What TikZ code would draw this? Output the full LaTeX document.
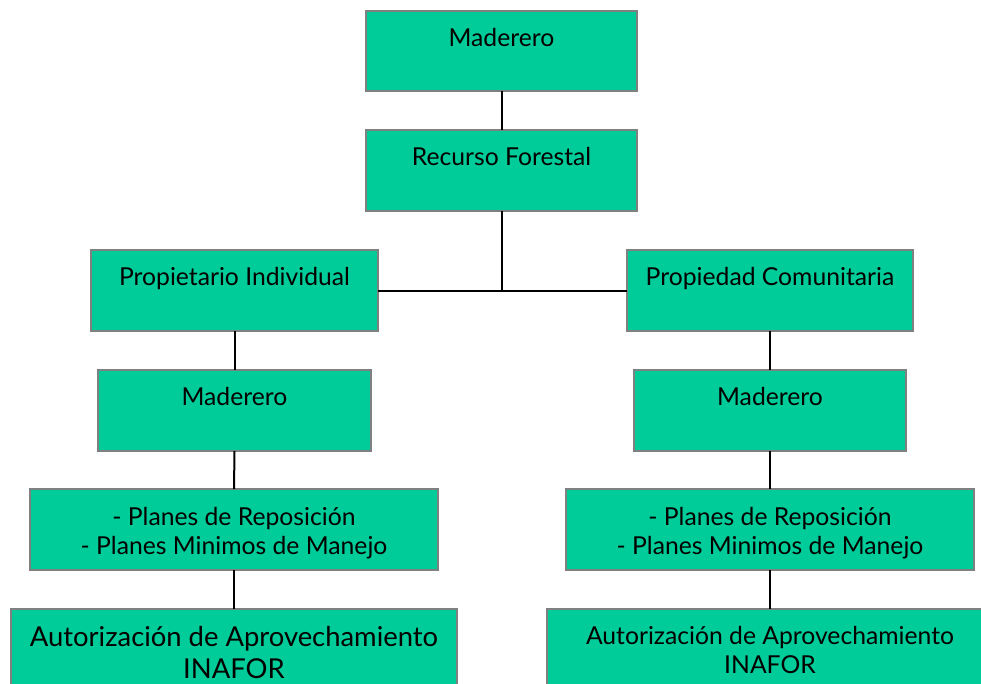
\documentclass[tikz,border=0pt]{standalone}
\usepackage{fontspec}
\setmainfont{Lato}
\definecolor{boxfill}{RGB}{0,204,153}
\definecolor{boxgray}{RGB}{128,128,128}
\tikzset{
  box/.style={draw=boxgray, line width=2pt, fill=boxfill, inner sep=0pt, outer sep=0pt},
  txt/.style={anchor=north, inner sep=0pt, align=center, text=black,
              font=\fontsize{24.7}{29}\selectfont},
  txtbig/.style={anchor=north, inner sep=0pt, align=center, text=black,
              font=\fontsize{27.4}{32}\selectfont},
  conn/.style={draw=black, line width=2pt},
}
\begin{document}
\begin{tikzpicture}[x=1pt, y=-1pt]
\useasboundingbox (0,0) rectangle (981,684);
\clip (0,0) rectangle (981,684);
\node[box, minimum width=271pt, minimum height=80pt,
  label={[name=At, txt, yshift=-14.7pt]north:\strut Maderero}] (A) at (501.5,51) {};
\node[box, minimum width=271pt, minimum height=81pt,
  label={[name=Bt, txt, yshift=-14.7pt]north:\strut Recurso Forestal}] (B) at (501.5,170.5) {};
\node[box, minimum width=287pt, minimum height=81pt,
  label={[name=Ct, txt, yshift=-14.7pt]north:\strut Propietario Individual}] (C) at (234.5,290.5) {};
\node[box, minimum width=286pt, minimum height=81pt,
  label={[name=Dt, txt, yshift=-14.7pt]north:\strut Propiedad Comunitaria}] (D) at (770,290.5) {};
\node[box, minimum width=273pt, minimum height=81pt,
  label={[name=Et, txt, yshift=-14.7pt]north:\strut Maderero}] (E) at (234.5,410.5) {};
\node[box, minimum width=272pt, minimum height=81pt,
  label={[name=Ft, txt, yshift=-14.7pt]north:\strut Maderero}] (F) at (770,410.5) {};
\node[box, minimum width=408pt, minimum height=81pt,
  label={[name=Gt, txt, yshift=-15.7pt]north:\strut - Planes de Reposición\\\strut - Planes Minimos de Manejo}] (G) at (234,529.5) {};
\node[box, minimum width=408pt, minimum height=81pt,
  label={[name=Ht, txt, yshift=-15.7pt]north:\strut - Planes de Reposición\\\strut - Planes Minimos de Manejo}] (H) at (770,529.5) {};
\node[box, minimum width=446pt, minimum height=80pt,
  label={[name=It, txtbig, yshift=-15pt]north:\strut Autorización de Aprovechamiento\\INAFOR}] (I) at (234,648.5) {};
\node[box, minimum width=446pt, minimum height=80pt,
  label={[name=Jt, txt, yshift=-15.7pt]north:\strut Autorización de Aprovechamiento\\INAFOR}] (J) at (770,648.5) {};
\draw[conn] (A.south) -- (B.north);
\draw[conn] (B.south) -- (B.south |- C.east);
\draw[conn] (C.east) -- (D.west);
\draw[conn] (C.south) -- (E.north);
\draw[conn] (E.south) -- (G.north);
\draw[conn] (G.south) -- (I.north);
\draw[conn] (D.south) -- (F.north);
\draw[conn] (F.south) -- (H.north);
\draw[conn] (H.south) -- (J.north);
\end{tikzpicture}
\end{document}
